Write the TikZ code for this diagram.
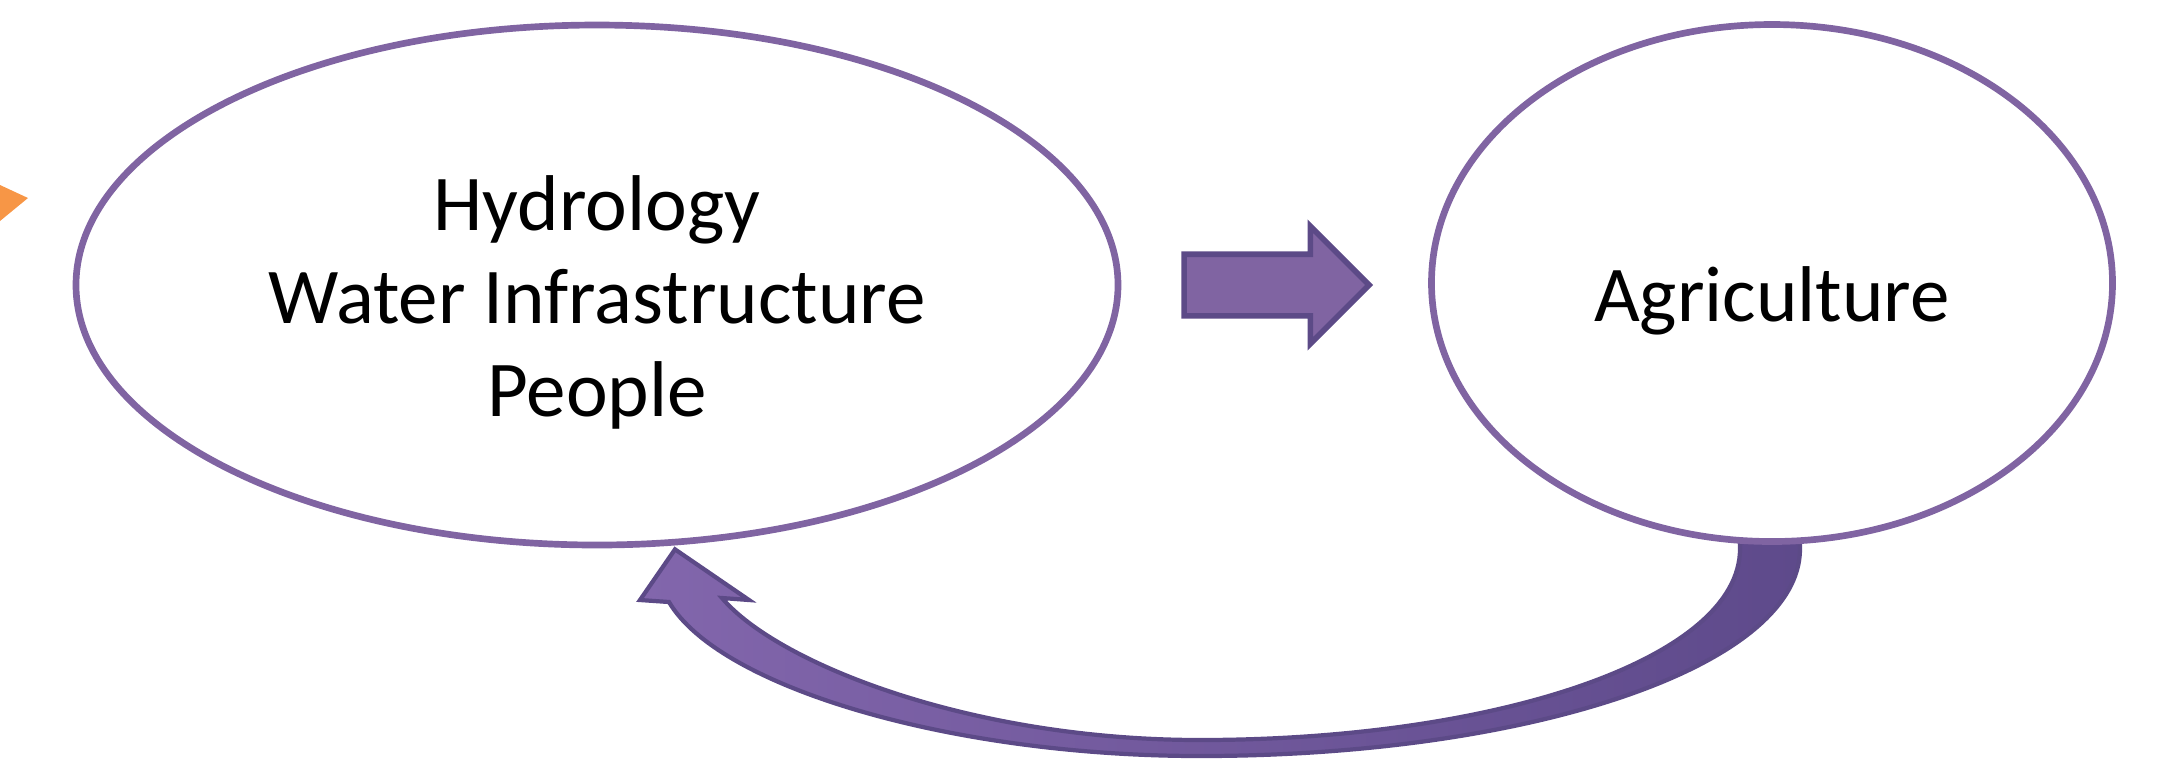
\documentclass[tikz,border=0pt]{standalone}
\usepackage{fontspec}
\setmainfont{Carlito}
\usetikzlibrary{shapes.geometric, shapes.arrows, positioning, calc, backgrounds}
\definecolor{ringpurple}{HTML}{8064A2}
\definecolor{darkpurple}{HTML}{5C4A87}
\definecolor{loopright}{HTML}{5E4A8B}
\definecolor{loopleft}{HTML}{8266AC}
\definecolor{slideorange}{HTML}{F79646}

\newcommand{\dropby}[1]{\raisebox{-0.2cm}[\height][\depth]{\begin{tabular}{@{}c@{}}#1\end{tabular}}}

\tikzset{
	bubble/.style={ellipse, draw=ringpurple, line width=1.9pt, fill=white,
		font=\fontsize{22.5}{26.5}\selectfont, inner sep=0pt},
	blockarrow/.style={single arrow, draw=darkpurple, fill=ringpurple, line width=1.6pt,
		inner sep=0pt, text height=0.28cm, text depth=0.28cm,
		single arrow head extend=0.28cm, single arrow head indent=0pt}
}

\begin{document}
\begin{tikzpicture}
		\useasboundingbox (0,0) rectangle (21.79,-7.58);
		\fill[slideorange] (0,-1.85) -- (0.28,-1.98) -- (0,-2.21) -- cycle;

		\draw (5.97cm,-2.85cm) node[bubble, minimum width=10.42cm, minimum height=5.2cm] (hyd)
			{\dropby{Hydrology\\Water Infrastructure\\People}}
		(17.72cm,-2.83cm) node[bubble, minimum width=6.81cm, minimum height=5.17cm] (agr) {\dropby{Agriculture}};

		\node[blockarrow, minimum height=1.85cm, right=0.6cm of hyd] (fwd) {};

		% feedback loop
		\begin{pgfonlayer}{background}
		\draw[darkpurple, line width=1.2pt, left color=loopleft, right color=loopright]
			($(agr.south)+(0.28,0.3)$) -- ($(agr.south)+(0.28,-0.04)$)
			.. controls +(0,-1.17) and +(3.31,0) .. (12.0,-7.56)
			.. controls +(-2.5,0) and +(0.5,-0.85) .. (6.69,-6.02)
			-- (6.40,-6.0) -- ($(hyd.south)+(0.78,-0.01)$) -- (7.49,-6.0)
			-- (7.22,-5.98) .. controls +(0.55,-0.65) and +(-2.3,0) .. (12.0,-7.40)
			.. controls +(2.96,0) and +(0,-1.1) .. ($(agr.south)+(-0.32,-0.04)$)
			-- ($(agr.south)+(-0.32,0.3)$) -- cycle;
		\end{pgfonlayer}
\end{tikzpicture}
\end{document}
